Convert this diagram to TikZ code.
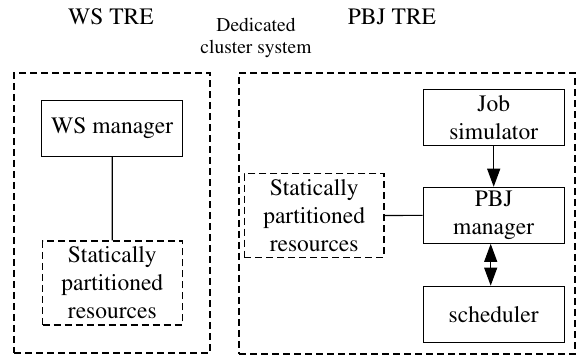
\documentclass[tikz,border=0pt]{standalone}
\usepackage[T1]{fontenc}
\usepackage{times}
\usetikzlibrary{arrows.meta}

\tikzset{
  unitbox/.style={draw,line width=1.1pt,align=center,inner sep=0pt,
    font=\fontsize{23.5}{28}\selectfont,minimum width=141pt,minimum height=56pt},
  resbox/.style={unitbox,dash pattern=on 7pt off 4pt,minimum width=139.5pt,minimum height=84pt},
  trebox/.style={draw,line width=1.1pt,dash pattern=on 7pt off 4pt,inner sep=0pt},
  title/.style={font=\fontsize{23.5}{28}\selectfont,anchor=base},
  tip/.style={-{Triangle[length=18pt,width=13pt]}},
  twotips/.style={{Triangle[length=18pt,width=13pt]}-{Triangle[length=18pt,width=13pt]}}
}

\begin{document}
\begin{tikzpicture}[x=1pt,y=-1pt]
  \useasboundingbox (0,0) rectangle (579,358);

  \node[title] (wstitle) at (111,24.5) {WS TRE};
  \node[title] (pbjtitle) at (392,24.5) {PBJ TRE};
  \node[align=center,font=\fontsize{19.5}{22}\selectfont,inner sep=0pt] (dedicated) at (256,38) {Dedicated\\cluster system};

  \node[trebox,minimum width=196pt,minimum height=280pt] (wsbox) at (112,213) {};
  \node[trebox,minimum width=336pt,minimum height=281pt] (pbjbox) at (407,213.5) {};

  \node[unitbox] (wsmgr) at (112.2,128.3) {WS manager};
  \node[resbox] (wsres) at (112.3,283) {Statically\\partitioned\\resources};

  \node[unitbox] (jobsim) at (493.7,117.5) {Job\\simulator};
  \node[unitbox] (pbjmgr) at (493.7,215.3) {PBJ\\manager};
  \node[unitbox] (sched) at (493.7,314.2) {scheduler};
  \node[resbox] (pbjres) at (314.2,215.6) {Statically\\partitioned\\resources};

  \draw[line width=1.1pt] (wsmgr) -- (wsres);
  \draw[line width=1.1pt] (pbjres) -- (pbjmgr);
  \draw[line width=1.1pt,tip] (jobsim) -- (pbjmgr);
  \draw[line width=1.1pt,twotips] ([xshift=-3pt]pbjmgr.south) -- ([xshift=-3pt]sched.north);
\end{tikzpicture}
\end{document}
